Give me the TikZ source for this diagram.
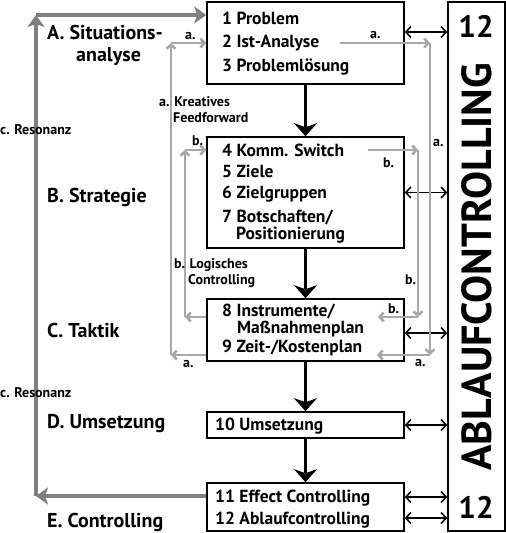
\documentclass[tikz,border=0pt]{standalone}
\usepackage{fontspec}
\setmainfont{PT Sans}
\usetikzlibrary{arrows.meta}
\definecolor{resogray}{HTML}{808080}
\definecolor{fbgray}{HTML}{A8A8A8}
\tikzset{
  box/.style={draw, line width=1.6pt, minimum width=197pt, inner sep=0pt},
  boxtxt/.style={anchor=base west, inner sep=0pt, font=\fontsize{17.5}{20}\selectfont\bfseries},
  phase/.style={anchor=base west, inner sep=0pt, font=\fontsize{20}{22}\selectfont\bfseries},
  lbl/.style={anchor=base west, inner sep=0pt, font=\fontsize{14}{16}\selectfont\bfseries},
  flow/.style={line width=3.5pt, -{Stealth[length=13pt,width=23pt,inset=4pt]}},
  dbl/.style={line width=1.6pt, {Straight Barb[length=5pt,width=11pt]}-{Straight Barb[length=5pt,width=11pt]}},
  reso/.style={draw=resogray, line width=4pt, -{Stealth[length=12pt,width=17pt,inset=3pt]}},
  fb/.style={draw=fbgray, line width=2.6pt, -{Straight Barb[length=4pt,width=9pt]}},
}
\begin{document}
\begin{tikzpicture}[x=1pt,y=-1pt]
  \useasboundingbox (0,0) rectangle (506,533);
  % Kaesten
  \node[box, minimum height=82pt] (b1) at (305.5,43) {};
  \node[box, minimum height=111pt] (b2) at (305.5,192.5) {};
  \node[box, minimum height=62pt] (b3) at (305.5,330) {};
  \node[box, minimum height=26pt] (b4) at (305.5,425) {};
  \node[box, minimum height=48pt] (b5) at (305.5,507) {};
  \node[draw, line width=1.6pt, minimum width=57pt, minimum height=529pt,
    inner sep=0pt] (ctrl) at (476.5,266.5) {}; % Ablaufcontrolling
  \node[font=\fontsize{31}{33}\selectfont\bfseries] (n12a) at (476,26) {12};
  \node[font=\fontsize{31}{33}\selectfont\bfseries] (n12b) at (476,507.5) {12};
  \node[rotate=90, font=\fontsize{42}{44}\selectfont\bfseries] (abl) at (476.5,267)
  {ABLAUFCONTROLLING};

  % Inhalt
  \node[boxtxt] (t1) at (222,24) {1 Problem};
  \node[boxtxt] (t2) at (222,47) {2 Ist-Analyse};
  \node[boxtxt] (t3) at (222,71) {3 Problemlösung};
  \node[boxtxt] (t4) at (222,156) {4 Komm. Switch};
  \node[boxtxt] (t5) at (222,177) {5 Ziele};
  \node[boxtxt] (t6) at (222,198) {6 Zielgruppen};
  \node[boxtxt] (t7) at (222,222) {7 Botschaften/};
  \node[boxtxt] (t7b) at (236,239) {Positionierung};
  \node[boxtxt] (t8) at (222,316.5) {8 Instrumente/};
  \node[boxtxt] (t8b) at (237,333.5) {Maßnahmenplan};
  \node[boxtxt] (t9) at (222,352.5) {9 Zeit-/Kostenplan};
  \node[boxtxt] (t10) at (215,430) {10 Umsetzung};
  \node[boxtxt] (t11) at (215,502) {11 Effect Controlling};
  \node[boxtxt] (t12) at (215,524) {12 Ablaufcontrolling};

  % Phasen
  \node[phase] (pA) at (47,39) {A. Situations-};
  \node[phase] (pA2) at (76,61) {analyse};
  \node[phase] (pB) at (47,202) {B. Strategie};
  \node[phase] (pC) at (47,337) {C. Taktik};
  \node[phase] (pD) at (47,428) {D. Umsetzung};
  \node[phase] (pE) at (47,527) {E. Controlling};

  % Ablauf
  \draw[flow] (b1.south) -- (b2.north);
  \draw[flow] (b2.south) -- (b3.north);
  \draw[flow] (b3.south) -- (b4.north);
  \draw[flow] (b4.south) -- (b5.north);

  % Controlling-Pfeile
  \coordinate (d1) at ([yshift=11pt]b1.east);
  \coordinate (d2) at (b2.east);
  \coordinate (d3) at ([yshift=-3pt]b3.east);
  \coordinate (d4) at (b4.east);
  \coordinate (d5) at ([yshift=10pt]b5.east);
  \coordinate (d6) at ([yshift=-11pt]b5.east);
  \foreach \d in {d1,d2,d3,d4,d5,d6} { \draw[dbl] (\d) -- (\d -| ctrl.west); }

  % c. Resonanz
  \coordinate (r0) at ([yshift=11pt]b5.west);
  \coordinate (r1) at (36,496); \coordinate (r2) at (36,15);
  \coordinate (r3) at ([yshift=28pt]b1.west);
  \draw[reso] (r0) -- (r1); \draw[reso] (r1) -- (r2); \draw[reso] (r2) -- (r3);

  % a. Feedforward links / b. Controlling links
  \coordinate (a0) at ([yshift=-25pt]b3.west);
  \coordinate (a1) at (171,355); \coordinate (a2) at (171,43);
  \draw[fb] (a0) -- (a1); \draw[fb] (a1) -- (a2); \draw[fb] (a2) -- (b1.west);
  \coordinate (l0) at ([yshift=13pt]b3.west);
  \coordinate (l1) at (185,317); \coordinate (l2) at (185,150);
  \coordinate (l3) at ([yshift=42.5pt]b2.west);
  \draw[fb] (l0) -- (l1); \draw[fb] (l1) -- (l2); \draw[fb] (l2) -- (l3);

  % a. / b. rechts
  \coordinate (e0) at (340,43); \coordinate (e1) at (430,43);
  \coordinate (e2) at (430,355); \coordinate (e3) at (377,355);
  \draw[fb] (e0) -- (e1); \draw[fb] (e1) -- (e2); \draw[fb] (e2) -- (e3);
  \coordinate (s0) at (368,150); \coordinate (s1) at (418,150);
  \coordinate (s2) at (418,317); \coordinate (s3) at (378,317);
  \draw[fb] (s0) -- (s1); \draw[fb] (s1) -- (s2); \draw[fb] (s2) -- (s3);

  % Beschriftungen
  \node[lbl] (c1) at (0,134) {c. Resonanz};
  \node[lbl] (c2) at (0,397) {c. Resonanz};
  \node[lbl] (k1) at (159,106) {a. Kreatives};
  \node[lbl] (k2) at (173,122) {Feedforward};
  \node[lbl] (g1) at (174,268) {b. Logisches};
  \node[lbl] (g2) at (188,284) {Controlling};
  \node[lbl] (la1) at (185,39) {a.};
  \node[lbl] (lb1) at (192,145) {b.};
  \node[lbl] (la2) at (183,367) {a.};
  \node[lbl] (ra1) at (370,38) {a.};
  \node[lbl] (ra2) at (433,146) {a.};
  \node[lbl] (rb1) at (383,167) {b.};
  \node[lbl] (rb2) at (405,284) {b.};
  \node[lbl] (rb3) at (388,313) {b.};
  \node[lbl] (ra3) at (415,366) {a.};
\end{tikzpicture}
\end{document}
